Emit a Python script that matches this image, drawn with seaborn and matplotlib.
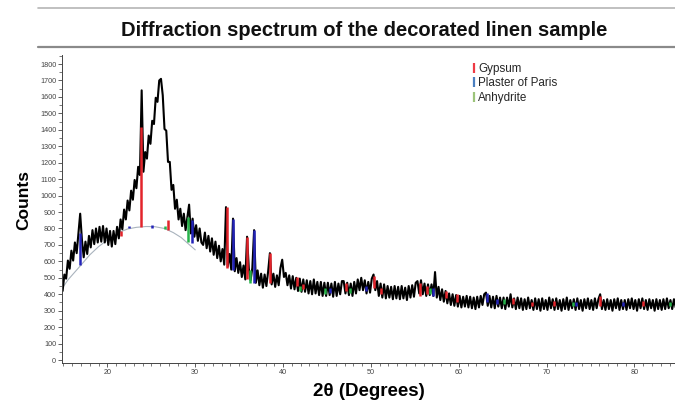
import numpy as np
import matplotlib
matplotlib.use("Agg")
import matplotlib.pyplot as plt
from matplotlib.lines import Line2D
from matplotlib.ticker import MultipleLocator
import seaborn as sns

# ---------------- data ----------------
start_deg = 14.9
step_deg = 0.2
counts = [
    420, 520, 495, 605, 555, 665, 605, 715, 650, 770,
    890, 730, 625, 720, 645, 755, 685, 790, 705, 800,
    715, 810, 720, 815, 715, 800, 700, 785, 690, 785,
    705, 810, 740, 855, 795, 915, 855, 970, 910, 1030,
    975, 1095, 1045, 1175, 1125, 1640, 1145, 1265, 1225, 1365,
    1315, 1455, 1435, 1595, 1570, 1700, 1710, 1610, 1405, 1395,
    1205, 1205, 1035, 1065, 920, 975, 855, 920, 815, 890,
    790, 870, 945, 770, 860, 750, 820, 725, 800, 715,
    700, 775, 680, 755, 660, 740, 640, 720, 620, 695,
    600, 675, 580, 930, 570, 645, 550, 860, 540, 620,
    530, 595, 505, 575, 490, 750, 555, 485, 560, 790,
    470, 545, 455, 525, 440, 520, 450, 540, 650, 460,
    525, 445, 515, 455, 560, 610, 505, 530, 455, 515,
    435, 510, 430, 500, 420, 495, 415, 490, 415, 485,
    405, 480, 400, 490, 405, 475, 395, 475, 390, 470,
    390, 470, 395, 465, 385, 475, 390, 465, 400, 480,
    480, 405, 470, 395, 465, 390, 475, 405, 490, 425,
    500, 425, 485, 405, 475, 410, 495, 520, 425, 480,
    390, 465, 380, 460, 375, 450, 380, 445, 370, 450,
    375, 445, 370, 450, 375, 440, 365, 450, 380, 455,
    385, 470, 480, 405, 485, 400, 465, 390, 460, 395,
    460, 390, 535, 380, 445, 365, 430, 355, 420, 345,
    405, 335, 400, 330, 395, 325, 390, 320, 385, 325,
    390, 320, 385, 315, 380, 310, 385, 320, 390, 335,
    400, 410, 330, 390, 320, 385, 315, 390, 325, 380,
    315, 380, 310, 380, 325, 400, 320, 375, 310, 380,
    315, 375, 305, 370, 310, 380, 315, 365, 305, 375,
    310, 370, 300, 375, 310, 365, 305, 380, 315, 370,
    305, 375, 310, 365, 300, 370, 310, 380, 305, 365,
    315, 370, 305, 375, 310, 365, 300, 370, 315, 375,
    310, 365, 305, 375, 315, 370, 400, 310, 365, 305,
    370, 310, 365, 300, 370, 315, 375, 305, 365, 310,
    365, 305, 370, 315, 375, 310, 365, 300, 370, 315,
    375, 310, 365, 305, 370, 315, 365, 300, 370, 310,
    365, 305, 370, 310, 375, 315, 365, 310, 370, 320,
]
two_theta = np.round(start_deg + step_deg * np.arange(len(counts)), 2)

# fitted background curve
bg_theta = [14.9, 15.5, 17.0, 18.0, 19.0, 20.0, 21.5, 22.3, 23.3, 24.4, 25.4, 26.5, 27.5, 28.4, 29.25, 30.0]
bg_counts = [440, 487, 578, 640, 690, 730, 780, 797, 807, 812, 811, 800, 775, 745, 705, 670]

# reference stick patterns: position, bottom, top
gypsum_pos = [21.5, 23.8, 26.85, 33.6, 35.9, 38.55, 41.6, 42.3, 47.2, 50.3, 51.2, 55.6, 56.4, 58.5, 59.8, 66.2, 68.3, 70.8, 76.1, 81.0]
gypsum_low = [755, 810, 790, 560, 490, 470, 450, 430, 420, 440, 400, 390, 400, 380, 350, 340, 330, 330, 330, 330]
gypsum_high = [785, 1420, 850, 930, 750, 650, 505, 460, 470, 510, 440, 470, 450, 420, 400, 380, 355, 360, 390, 360]

paris_pos = [16.85, 22.5, 25.1, 29.6, 34.3, 36.65, 45.3, 49.4, 57.1, 63.2, 64.3, 73.4, 78.7]
paris_low = [580, 800, 805, 710, 547, 467, 410, 420, 390, 350, 340, 330, 330]
paris_high = [775, 818, 820, 850, 860, 790, 440, 450, 440, 410, 370, 355, 350]

anhydrite_pos = [26.5, 29.2, 36.2, 41.95, 44.8, 47.6, 56.75, 65.1, 73.0, 84.0]
anhydrite_low = [798, 719, 470, 420, 400, 410, 400, 340, 330, 330]
anhydrite_high = [815, 870, 545, 450, 440, 440, 440, 370, 350, 350]

phase_names = ["Gypsum", "Plaster of Paris", "Anhydrite"]
phase_colors = ["#e3242b", "#2323b8", "#27b34a"]
legend_colors = ["#ee3a44", "#4a7fc0", "#9cc47a"]

y_ticks = list(range(0, 1801, 100))
x_ticks = [20, 30, 40, 50, 60, 70, 80]

# ---------------- figure ----------------
sns.set_theme(style="ticks")
plt.rcParams["font.family"] = ["Liberation Sans", "DejaVu Sans"]

W, H = 675, 405
fig = plt.figure(figsize=(W / 100, H / 100), dpi=100)
fig.patch.set_facecolor("white")

ax = fig.add_axes([62 / W, 1 - 363 / H, 1 - 62 / W, (363 - 55) / H])
ax.set_facecolor("white")

# background curve
sns.lineplot(x=bg_theta, y=bg_counts, ax=ax, color="#a9b3bd", lw=0.8, sort=False)

# stick patterns
for pos, lo, hi, col in [
    (gypsum_pos, gypsum_low, gypsum_high, phase_colors[0]),
    (paris_pos, paris_low, paris_high, phase_colors[1]),
    (anhydrite_pos, anhydrite_low, anhydrite_high, phase_colors[2]),
]:
    ax.vlines(pos, lo, hi, colors=col, lw=1.8, zorder=3)

# measured spectrum
sns.lineplot(x=two_theta, y=counts, ax=ax, color="black", lw=1.5, zorder=2, sort=False)

ax.set_xlim(14.83, 84.62)
ax.set_ylim(-18, 1855)
ax.set_yticks(y_ticks)
ax.set_xticks(x_ticks)
ax.yaxis.set_minor_locator(MultipleLocator(50))
ax.xaxis.set_minor_locator(MultipleLocator(1))
ax.tick_params(axis="both", which="major", labelsize=5.2, length=3.2, width=0.6,
               colors="#444444", pad=1.0)
ax.tick_params(axis="both", which="minor", length=2, width=0.5, colors="#444444")
for s in ["top", "right"]:
    ax.spines[s].set_visible(False)
for s in ["left", "bottom"]:
    ax.spines[s].set_color("#444444")
    ax.spines[s].set_linewidth(0.7)

ax.set_xlabel("2θ (Degrees)", fontsize=13.5, fontweight="bold", color="black")
ax.set_ylabel("Counts", fontsize=12.5, fontweight="bold", color="black")
ax.yaxis.set_label_coords((31 - 62) / (W - 62), 0.53)
ax.xaxis.set_label_coords(0.5, -0.065)

handles = [Line2D([0], [0], color=c, marker="|", ls="none", markersize=7, mew=1.6)
           for c in legend_colors]
ax.legend(handles, phase_names, loc="upper left", bbox_to_anchor=(0.668, 0.975),
          frameon=False, fontsize=8.4, handlelength=0.4, handletextpad=0.15,
          labelspacing=0.22, borderpad=0, borderaxespad=0)

# title with the two rules
fig.text(0.54, 1 - 30 / H, "Diffraction spectrum of the decorated linen sample",
         ha="center", va="center", fontsize=14.5, fontweight="bold", color="#111111")
fig.add_artist(Line2D([38 / W, 1], [1 - 8 / H, 1 - 8 / H], transform=fig.transFigure,
                      color="#b5b5b5", lw=1.2))
fig.add_artist(Line2D([38 / W, 1], [1 - 47 / H, 1 - 47 / H], transform=fig.transFigure,
                      color="#8a8a8a", lw=1.6))

fig.savefig("out.png", dpi=100)
